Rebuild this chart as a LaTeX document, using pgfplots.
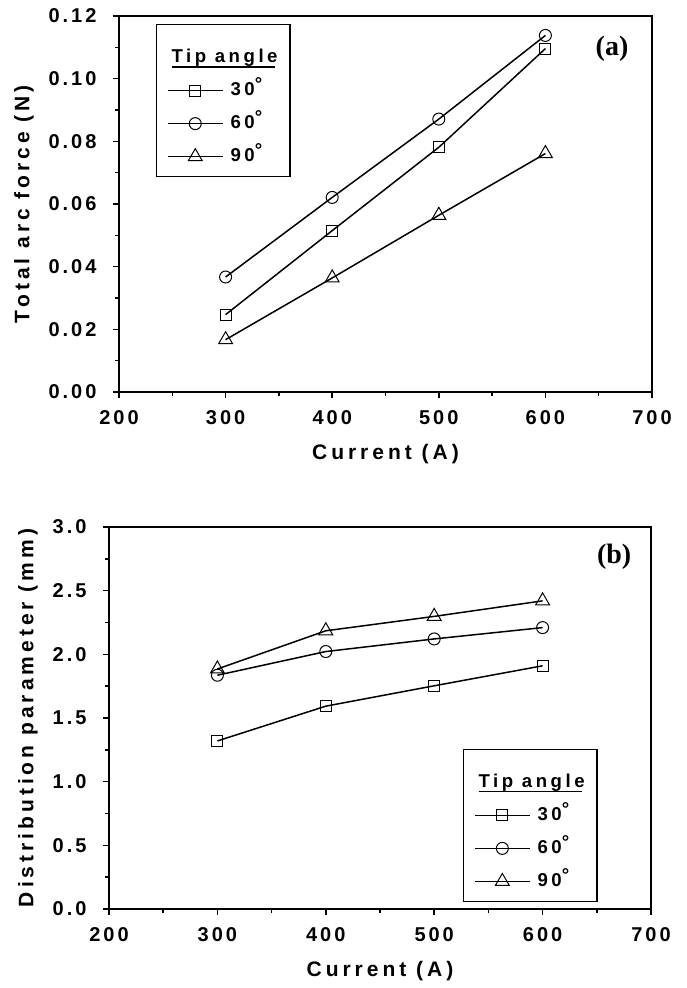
\documentclass[border=0pt]{standalone}
\usepackage{fontspec}
\setmainfont{Liberation Sans}
\newfontfamily\tickfam[LetterSpace=15]{Liberation Sans}
\newfontfamily\labfam[LetterSpace=19]{Liberation Sans}
\newfontfamily\tnr{Liberation Serif}
\usepackage{pgfplots}
\pgfplotsset{compat=1.18}

\newcommand{\dg}{\raisebox{5pt}{°}}
\newcommand{\ul}[1]{\setbox0\hbox{#1}\rlap{\rule[-5pt]{\dimexpr\wd0-3pt\relax}{1.8pt}}\box0}

\pgfplotsset{
 myaxis/.style={
  scale only axis,
  enlargelimits=false,
  axis line style={line width=2pt},
  xmin=200, xmax=700, xtick={200,300,400,500,600,700}, minor x tick num=1,
  tick align=outside, tick pos=left,
  major tick length=6pt, minor tick length=4pt,
  every tick/.style={line width=1.5pt, black},
  /pgf/number format/assume math mode=true,
  tick label style={font=\tickfam\bfseries\fontsize{20}{22}\selectfont},
  xticklabel style={yshift=-9pt},
  yticklabel style={xshift=-13pt},
  label style={font=\labfam\bfseries\fontsize{21}{24}\selectfont},
  xlabel style={yshift=-13pt},
  ylabel style={yshift=8pt},
  xlabel={Current (A)},
  legend cell align=left,
  legend image code/.code={\draw[mark repeat=2,mark phase=2] plot coordinates {(0pt,0pt)(27.5pt,0pt)(55pt,0pt)};},
  legend style={draw=black, line width=1.5pt, inner xsep=10.5pt, inner ysep=9pt,
    row sep=11pt, column sep=5pt,
    font=\labfam\bfseries\fontsize{18.6}{22}\selectfont,
    nodes={inner sep=2pt, text height=14pt, text depth=4pt}},
 },
 sq/.style={black, line width=1.5pt, mark=square, mark size=5.5pt, mark options={fill=white, line width=1pt, solid}},
 ci/.style={black, line width=1.5pt, mark=o, mark size=6pt, mark options={fill=white, line width=1pt, solid}},
 tr/.style={black, line width=1.5pt, mark=triangle, mark size=8pt, mark options={fill=white, line width=1pt, solid}},
}

\begin{document}
\begin{tikzpicture}
\useasboundingbox (0,0) rectangle (687pt,-988pt);

% ---------- (a) ----------
\begin{axis}[myaxis,
  at={(119pt,-392pt)}, anchor=south west, width=533pt, height=376pt,
  ymin=0, ymax=0.12, ytick={0,0.02,0.04,0.06,0.08,0.1,0.12}, minor y tick num=1,
  scaled y ticks=false,
  yticklabel style={/pgf/number format/.cd, fixed, fixed zerofill, precision=2},
  ylabel={Total arc force (N)},
  legend style={at={(0.069,0.979)}, anchor=north west},
]
\addlegendimage{empty legend}
\addlegendentry[text height=27pt]{\hspace*{-59pt}\ul{Tip angle}}
\addplot[sq] coordinates {(300,0.0247) (400,0.0515) (500,0.0781) (600,0.1096)};
\addlegendentry{30\dg}
\addplot[ci] coordinates {(300,0.0367) (400,0.0621) (500,0.0871) (600,0.1138)};
\addlegendentry{60\dg}
\addplot[tr] coordinates {(300,0.0167) (400,0.0364) (500,0.0564) (600,0.0761)};
\addlegendentry{90\dg}
\node[font=\tnr\bfseries\fontsize{28}{32}\selectfont] at (rel axis cs:0.925,0.912) {(a)};
\end{axis}

% ---------- (b) ----------
\begin{axis}[myaxis,
  at={(109pt,-909pt)}, anchor=south west, width=542pt, height=382pt,
  ymin=0, ymax=3, ytick={0,0.5,1,1.5,2,2.5,3}, minor y tick num=1,
  yticklabel style={/pgf/number format/.cd, fixed, fixed zerofill, precision=1},
  ylabel={Distribution parameter (mm)},
  legend style={at={(0.902,0.018)}, anchor=south east},
]
\addlegendimage{empty legend}
\addlegendentry[text height=27pt]{\hspace*{-59pt}\ul{Tip angle}}
\addplot[sq] coordinates {(300,1.32) (400,1.593) (500,1.753) (600,1.91)};
\addlegendentry{30\dg}
\addplot[ci] coordinates {(300,1.836) (400,2.022) (500,2.121) (600,2.21)};
\addlegendentry{60\dg}
\addplot[tr] coordinates {(300,1.885) (400,2.185) (500,2.298) (600,2.42)};
\addlegendentry{90\dg}
\node[font=\tnr\bfseries\fontsize{28}{32}\selectfont] at (rel axis cs:0.932,0.921) {(b)};
\end{axis}
\end{tikzpicture}
\end{document}
